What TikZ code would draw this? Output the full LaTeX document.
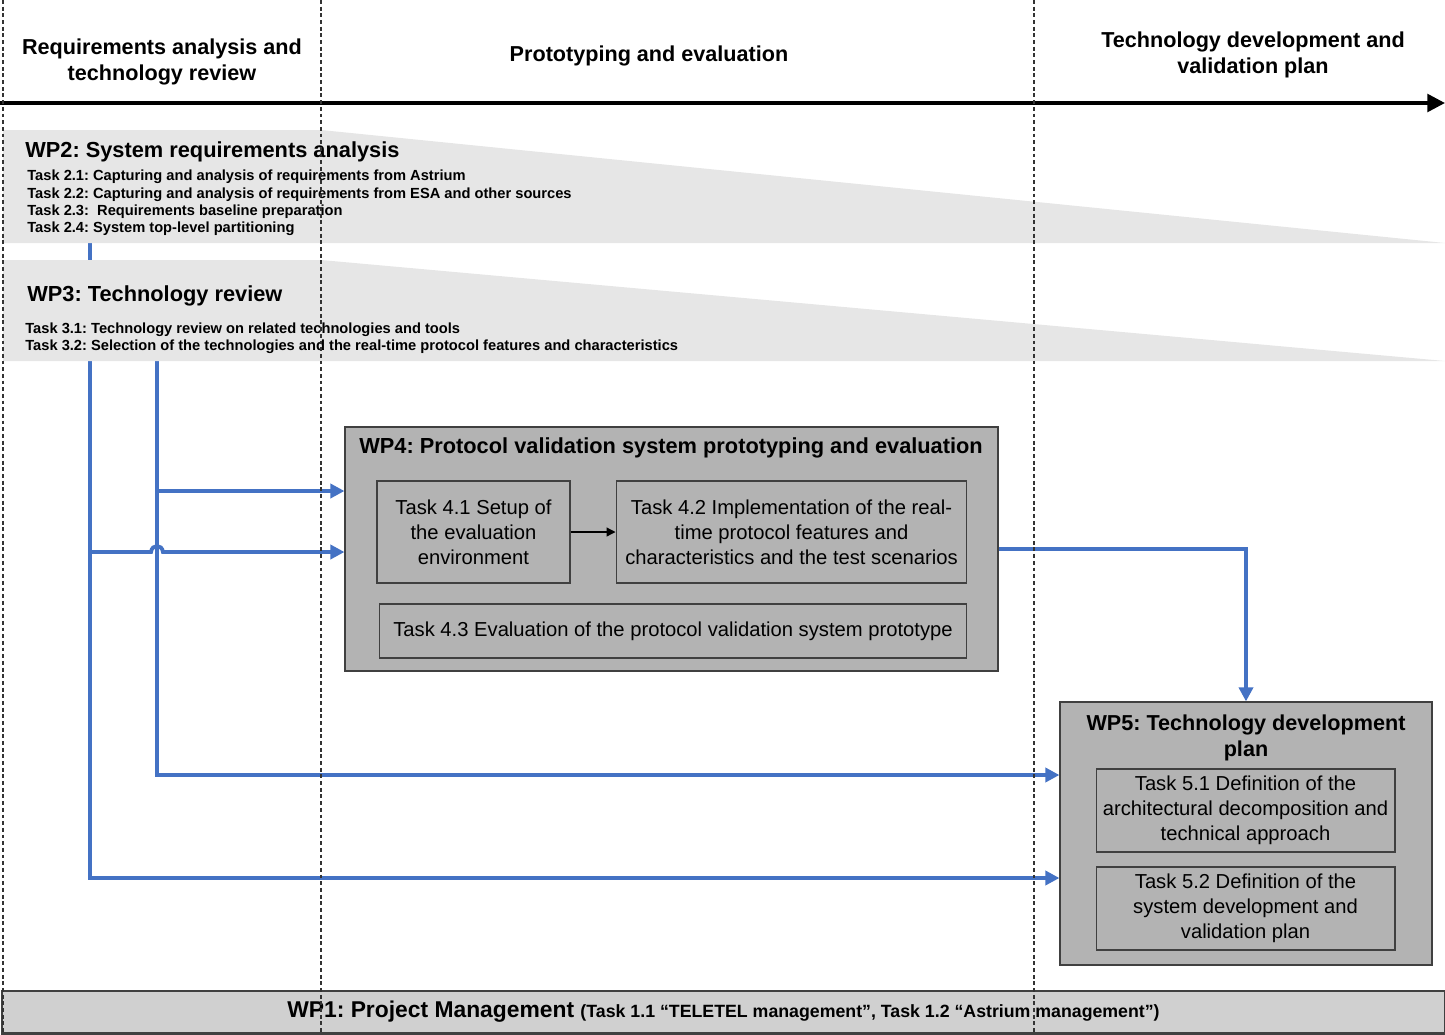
\documentclass[tikz,border=0pt]{standalone}
\usepackage{fontspec}
\setmainfont{Liberation Sans}
\usepackage{tikz}
\usetikzlibrary{arrows.meta, positioning, calc, backgrounds}
\usepackage{xcolor}
\definecolor{linkblue}{HTML}{4472C4}
\definecolor{bandgray}{HTML}{E6E6E6}
\definecolor{wpgray}{HTML}{B3B3B3}
\definecolor{mgmtgray}{HTML}{D0D0D0}
\definecolor{edgegray}{HTML}{404040}
\frenchspacing

\begin{document}
\begin{tikzpicture}[
    x=0.02cm, y=-0.02cm,
    phase/.style={font=\fontsize{12.3}{15.2}\selectfont\bfseries, align=center},
    wptitle/.style={font=\fontsize{12.4}{14.5}\selectfont\bfseries, anchor=west, inner sep=0pt},
    tasklist/.style={font=\fontsize{8.35}{9.95}\selectfont\bfseries, align=left,
                     anchor=west, inner sep=0pt},
    wpbox/.style={draw=edgegray, fill=wpgray, line width=0.7pt, inner sep=0pt},
    taskbox/.style={draw=edgegray, fill=wpgray, line width=0.6pt, align=center,
                    font=\fontsize{11.5}{14.2}\selectfont, inner sep=0pt},
    divider/.style={dash pattern=on 2.2pt off 1.6pt, line width=0.6pt, black!80},
    link/.style={linkblue, line width=2.2pt,
                 -{Triangle[length=8pt, width=8pt]}}
  ]
    \useasboundingbox (0,0) rectangle (1445,1035);

    % phases along the time line
    \node[phase] (ph1) at (162,62) {Requirements analysis and\\technology review};
    \node[phase] (ph2) at (649,56) {Prototyping and evaluation};
    \node[phase] (ph3) at (1253,55) {Technology development and\\validation plan};
    \coordinate (tstart) at (0,103);
    \coordinate (tend) at (1445,103);
    \draw[line width=2pt, -{Triangle[length=10pt, width=10pt]}] (tstart) -- (tend);

    % WP2 and WP3 bands
    \fill[bandgray] (3,130) -- (321,130) -- (1445,243) -- (3,243) -- cycle;
    \fill[bandgray] (3,260) -- (321,260) -- (1445,361) -- (3,361) -- cycle;
    \node[wptitle] (wp2) at (25,152) {WP2: System requirements analysis};
    \node[tasklist] (wp2tasks) at (27,203) {%
      Task 2.1: Capturing and analysis of requirements from Astrium\\
      Task 2.2: Capturing and analysis of requirements from ESA and other sources\\
      Task 2.3: \ Requirements baseline preparation\\
      Task 2.4: System top-level partitioning};
    \node[wptitle] (wp3) at (27,296) {WP3: Technology review};
    \node[tasklist] (wp3tasks) at (25,338) {%
      Task 3.1: Technology review on related technologies and tools\\
      Task 3.2: Selection of the technologies and the real-time protocol features and characteristics};
    \coordinate (wp2out) at (90,243);
    \coordinate (wp3out) at (157,361);

    % WP4
    \node[wpbox, minimum width=13.06cm, minimum height=4.88cm] (wp4) at (671.5,549) {};
    \node[wptitle] (wp4title) at (359,448)
      {WP4: Protocol validation system prototyping and evaluation};
    \node[taskbox, minimum width=3.86cm, minimum height=2.04cm] (t41) at (473.5,532)
      {Task 4.1 Setup of\\the evaluation\\environment};
    \node[taskbox, minimum width=7.02cm, minimum height=2.04cm] (t42) at (791.5,532)
      {Task 4.2 Implementation of the real-\\time protocol features and\\characteristics and the test scenarios};
    \node[taskbox, minimum width=11.76cm, minimum height=1.08cm] (t43) at (673,631)
      {Task 4.3 Evaluation of the protocol validation system prototype};
    \draw[line width=0.7pt, -{Triangle[length=5pt, width=5pt]}] (t41) -- (t42);

    % WP5
    \node[wpbox, minimum width=7.44cm, minimum height=5.26cm] (wp5) at (1246,833.5) {};
    \node[phase, inner sep=0pt] (wp5title) at (1246,738) {WP5: Technology development\\plan};
    \node[taskbox, minimum width=5.98cm, minimum height=1.66cm] (t51) at (1245.5,810.5)
      {Task 5.1 Definition of the\\architectural decomposition and\\technical approach};
    \node[taskbox, minimum width=5.98cm, minimum height=1.66cm] (t52) at (1245.5,908.5)
      {Task 5.2 Definition of the\\system development and\\validation plan};

    % WP1
    \node[draw=edgegray, fill=mgmtgray, line width=0.8pt, inner sep=0pt,
          minimum width=28.86cm, minimum height=0.84cm] (wp1) at (723.5,1012)
      {\fontsize{13}{15}\selectfont\bfseries WP1: Project Management
       {\fontsize{10.1}{12}\selectfont (Task 1.1 “TELETEL management”, Task 1.2 “Astrium management”)}};
    \draw[edgegray, line width=1.6pt] (wp1.south west) -- (wp1.south east);

    % links between work packages
    \begin{pgfonlayer}{background}
      \draw[link] (wp2out) |- (wp5.west |- 0,878);
      \draw[link] (wp3out) |- (wp5.west |- 0,775);
      \draw[link] (wp3out |- 0,491) -- (wp4.west |- 0,491);
      \draw[link] (wp2out |- 0,552) -- (151,552)
        .. controls (152,544) and (162,544) .. (163,552) -- (wp4.west |- 0,552);
      \draw[link] (wp4.east) -| (wp5.north);
    \end{pgfonlayer}

    % phase boundaries
    \foreach \px in {3,321,1034}
      \draw[divider] (\px,0) -- (\px,1035);
  \end{tikzpicture}
\end{document}
